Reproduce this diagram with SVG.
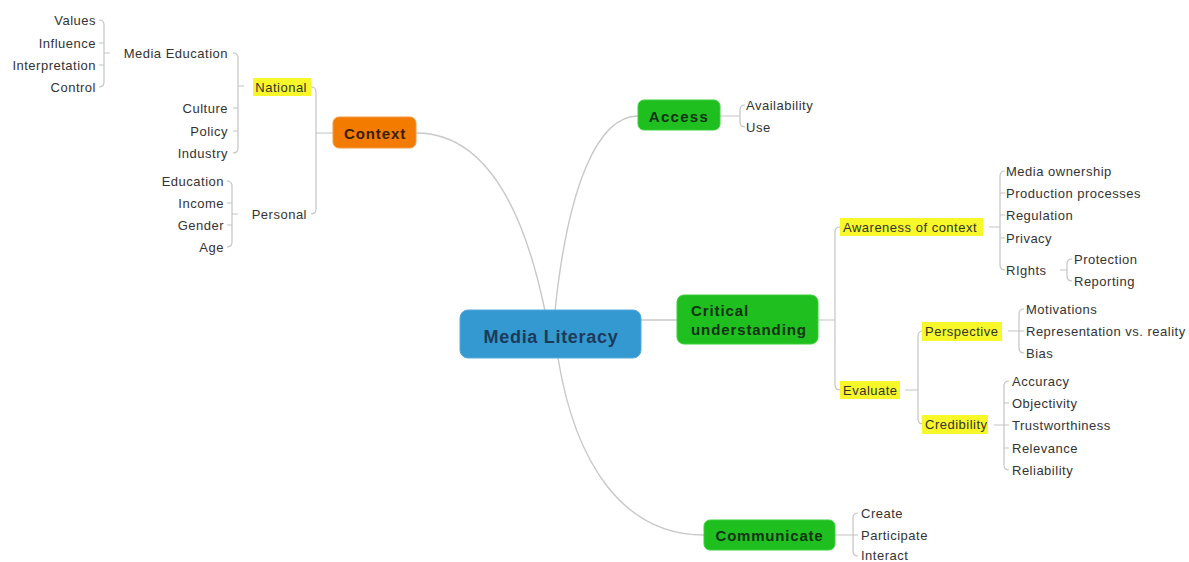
<svg xmlns="http://www.w3.org/2000/svg" width="1189" height="562" viewBox="0 0 1189 562">
<style>
.t{font-family:"Liberation Sans",Arial,sans-serif;font-size:13px;letter-spacing:0.5px;fill:#333}
.e{text-anchor:end}
.hl{fill:#f7f72a}
.b{font-family:"Liberation Sans",Arial,sans-serif;font-weight:bold;font-size:15px;letter-spacing:0.9px;fill:#123312}
.br{fill:none;stroke:#c4c4c4;stroke-width:1.2}
.cv{fill:none;stroke:#c8c8c8;stroke-width:1.4}
.g{fill:#1fbf1f;stroke:#3ad03a;stroke-width:1}
</style>
<rect width="1189" height="562" fill="#fff"/>
<g id="connectors">
<path class="cv" d="M416,133 C482,133 522,200 545,311"/>
<path class="cv" d="M638,116 C598,116 568,185 555,311"/>
<path class="cv" d="M558,358 C575,462 622,535 704,535"/>
<path class="cv" d="M641,320 H677"/>
<path class="br" d="M99,20 Q104,20 104,25 V82 Q104,87 99,87 M104,43 H99 M104,65 H99 M104,53 H110"/>
<path class="br" d="M233,53 Q238,53 238,58 V148 Q238,153 233,153 M238,108 H233 M238,131 H233 M238,86 H244"/>
<path class="br" d="M227,181 Q232,181 232,186 V242 Q232,247 227,247 M232,203 H227 M232,225 H227 M232,214 H238"/>
<path class="br" d="M311,87 Q316,87 316,92 V209 Q316,214 311,214 M316,133 H333"/>
<path class="br" d="M745,105 Q740,105 740,110 V122 Q740,127 745,127 M720,116 H740"/>
<path class="br" d="M840,227 Q835,227 835,232 V385 Q835,390 840,390 M818,320 H835"/>
<path class="br" d="M1005,171 Q1000,171 1000,176 V265 Q1000,270 1005,270 M1000,193 H1005 M1000,215 H1005 M1000,238 H1005 M989,227 H1000"/>
<path class="br" d="M1072,259 Q1067,259 1067,264 V276 Q1067,281 1072,281 M1060,270 H1067"/>
<path class="br" d="M923,331 Q918,331 918,336 V419 Q918,424 923,424 M905,390 H918"/>
<path class="br" d="M1024,309 Q1019,309 1019,314 V348 Q1019,353 1024,353 M1008,331 H1024"/>
<path class="br" d="M1009,381 Q1004,381 1004,386 V465 Q1004,470 1009,470 M1004,403 H1009 M1004,448 H1009 M994,425 H1009"/>
<path class="br" d="M858,513 Q853,513 853,518 V551 Q853,556 858,556 M835,535 H858"/>
</g>
<g id="media-literacy">
<rect x="460" y="310" width="181" height="48" rx="8" fill="#3399d0" stroke="#55aadd"/>
<text x="551" y="343" text-anchor="middle" font-family="Liberation Sans,Arial,sans-serif" font-weight="bold" font-size="18" letter-spacing="0.7" fill="#1d3a58">Media Literacy</text>
</g>
<g id="context">
<rect x="333" y="117" width="83" height="31" rx="6" fill="#f27b00" stroke="#f59a40"/>
<text x="375" y="138.5" text-anchor="middle" class="b" style="fill:#3a1e00">Context</text>
</g>
<g id="access">
<rect x="638" y="100" width="82" height="30" rx="6" class="g"/>
<text x="679" y="121.5" text-anchor="middle" class="b" style="letter-spacing:1.3px">Access</text>
</g>
<g id="critical">
<rect x="677" y="295" width="141" height="49" rx="7" class="g"/>
<text x="691" y="316" class="b">Critical</text>
<text x="691" y="335" class="b">understanding</text>
</g>
<g id="communicate">
<rect x="704" y="520" width="131" height="30" rx="6" class="g"/>
<text x="769.5" y="541" text-anchor="middle" class="b" style="letter-spacing:0.8px">Communicate</text>
</g>
<g id="national">
<rect x="253" y="78" width="58" height="18" class="hl"/>
<text x="307" y="91.5" class="t e">National</text>
</g>
<g id="personal"><text x="307" y="218.5" class="t e">Personal</text></g>
<g id="media-education"><text x="228" y="57.5" class="t e">Media Education</text></g>
<g id="values"><text x="96" y="24.5" class="t e">Values</text></g>
<g id="influence"><text x="96" y="47.5" class="t e">Influence</text></g>
<g id="interpretation"><text x="96" y="69.5" class="t e">Interpretation</text></g>
<g id="control"><text x="96" y="91.5" class="t e">Control</text></g>
<g id="culture"><text x="228" y="112.5" class="t e">Culture</text></g>
<g id="policy"><text x="228" y="135.5" class="t e">Policy</text></g>
<g id="industry"><text x="228" y="157.5" class="t e">Industry</text></g>
<g id="education"><text x="224" y="185.5" class="t e">Education</text></g>
<g id="income"><text x="224" y="207.5" class="t e">Income</text></g>
<g id="gender"><text x="224" y="229.5" class="t e">Gender</text></g>
<g id="age"><text x="224" y="251.5" class="t e">Age</text></g>
<g id="availability"><text x="746" y="109.5" class="t">Availability</text></g>
<g id="use"><text x="746" y="131.5" class="t">Use</text></g>
<g id="awareness">
<rect x="840" y="218" width="143" height="18" class="hl"/>
<text x="843" y="231.5" class="t">Awareness of context</text>
</g>
<g id="media-ownership"><text x="1006" y="175.5" class="t">Media ownership</text></g>
<g id="production"><text x="1006" y="197.5" class="t">Production processes</text></g>
<g id="regulation"><text x="1006" y="219.5" class="t">Regulation</text></g>
<g id="privacy"><text x="1006" y="242.5" class="t">Privacy</text></g>
<g id="rights"><text x="1006" y="274.5" class="t">RIghts</text></g>
<g id="protection"><text x="1074" y="263.5" class="t">Protection</text></g>
<g id="reporting"><text x="1074" y="285.5" class="t">Reporting</text></g>
<g id="evaluate">
<rect x="840" y="381" width="60" height="18" class="hl"/>
<text x="843" y="394.5" class="t">Evaluate</text>
</g>
<g id="perspective">
<rect x="922" y="322" width="80" height="19" class="hl"/>
<text x="925" y="335.5" class="t">Perspective</text>
</g>
<g id="motivations"><text x="1026" y="313.5" class="t">Motivations</text></g>
<g id="representation"><text x="1026" y="335.5" class="t">Representation vs. reality</text></g>
<g id="bias"><text x="1026" y="357.5" class="t">Bias</text></g>
<g id="credibility">
<rect x="922" y="415" width="66" height="19" class="hl"/>
<text x="925" y="428.5" class="t">Credibility</text>
</g>
<g id="accuracy"><text x="1012" y="385.5" class="t">Accuracy</text></g>
<g id="objectivity"><text x="1012" y="407.5" class="t">Objectivity</text></g>
<g id="trustworthiness"><text x="1012" y="429.5" class="t">Trustworthiness</text></g>
<g id="relevance"><text x="1012" y="452.5" class="t">Relevance</text></g>
<g id="reliability"><text x="1012" y="474.5" class="t">Reliability</text></g>
<g id="create"><text x="861" y="517.5" class="t">Create</text></g>
<g id="participate"><text x="861" y="539.5" class="t">Participate</text></g>
<g id="interact"><text x="861" y="559.5" class="t">Interact</text></g>
</svg>
